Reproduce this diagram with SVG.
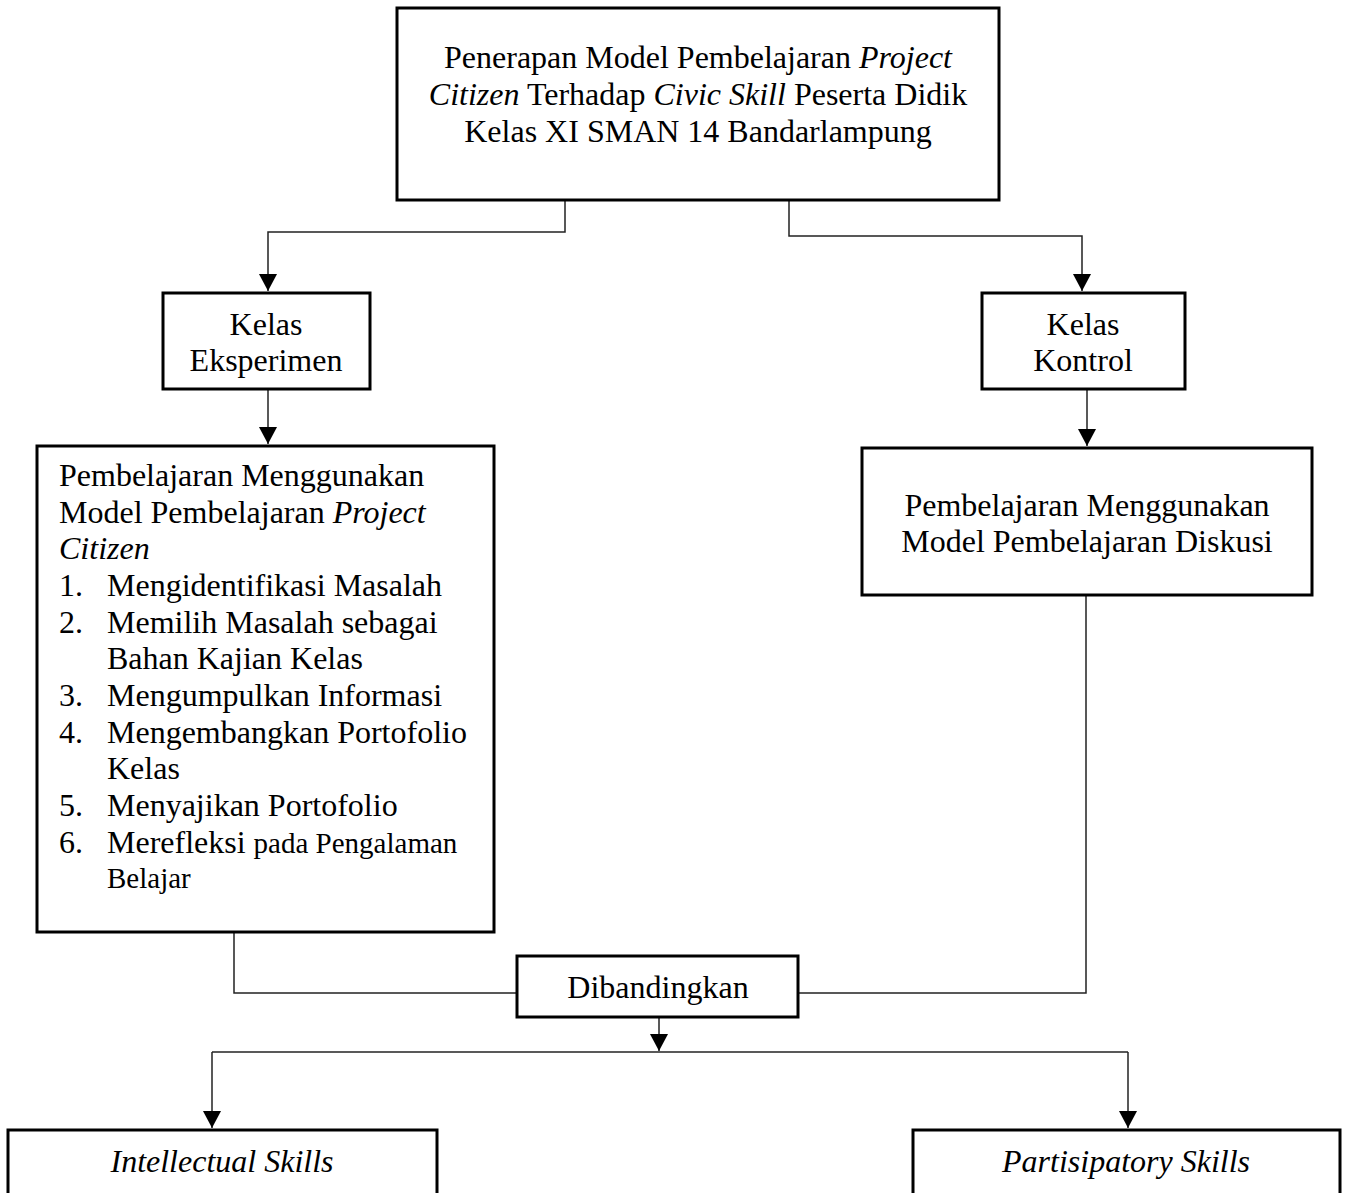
<svg xmlns="http://www.w3.org/2000/svg" width="1348" height="1193" viewBox="0 0 1348 1193">
<style>
.box{fill:#fff;stroke:#000;stroke-width:3}
.t{font-family:"Liberation Serif","Times New Roman",serif;font-size:32px;fill:#000}
.c{text-anchor:middle}
.i{font-style:italic}
.s{font-size:29px}
.conn{fill:none;stroke:#222;stroke-width:1.5}
</style>
<defs>
<marker id="arrd" markerUnits="userSpaceOnUse" markerWidth="18" markerHeight="18" viewBox="0 0 18 18" refX="17" refY="9" orient="auto">
<path d="M0,0 L17,9 L0,18 Z" fill="#000"/>
</marker>
</defs>
<g id="connectors">
<path class="conn" d="M565,200 V232 H268 V291" marker-end="url(#arrd)"/>
<path class="conn" d="M789,200 V236 H1082 V291" marker-end="url(#arrd)"/>
<path class="conn" d="M268,389 V444" marker-end="url(#arrd)"/>
<path class="conn" d="M1087,389 V446" marker-end="url(#arrd)"/>
<path class="conn" d="M234,932 V993 H517"/>
<path class="conn" d="M1086,595 V993 H798"/>
<path class="conn" d="M659,1017 V1051" marker-end="url(#arrd)"/>
<path class="conn" d="M212,1052 H1128"/>
<path class="conn" d="M212,1052 V1128" marker-end="url(#arrd)"/>
<path class="conn" d="M1128,1052 V1128" marker-end="url(#arrd)"/>
</g>
<g id="node-title">
<rect class="box" x="397" y="8" width="602" height="192"/>
<text class="t c" x="698" y="68">Penerapan Model Pembelajaran <tspan class="i">Project</tspan></text>
<text class="t c" x="698" y="105"><tspan class="i">Citizen</tspan> Terhadap <tspan class="i">Civic Skill</tspan> Peserta Didik</text>
<text class="t c" x="698" y="142">Kelas XI SMAN 14 Bandarlampung</text>
</g>
<g id="node-eksperimen">
<rect class="box" x="163" y="293" width="207" height="96"/>
<text class="t c" x="266" y="335">Kelas</text>
<text class="t c" x="266" y="371">Eksperimen</text>
</g>
<g id="node-kontrol">
<rect class="box" x="982" y="293" width="203" height="96"/>
<text class="t c" x="1083" y="335">Kelas</text>
<text class="t c" x="1083" y="371">Kontrol</text>
</g>
<g id="node-project-citizen">
<rect class="box" x="37" y="446" width="457" height="486"/>
<text class="t" x="59" y="486">Pembelajaran Menggunakan</text>
<text class="t" x="59" y="523">Model Pembelajaran <tspan class="i">Project</tspan></text>
<text class="t i" x="59" y="559">Citizen</text>
<text class="t" x="59" y="596">1.</text><text class="t" x="107" y="596">Mengidentifikasi Masalah</text>
<text class="t" x="59" y="633">2.</text><text class="t" x="107" y="633">Memilih Masalah sebagai</text>
<text class="t" x="107" y="669">Bahan Kajian Kelas</text>
<text class="t" x="59" y="706">3.</text><text class="t" x="107" y="706">Mengumpulkan Informasi</text>
<text class="t" x="59" y="743">4.</text><text class="t" x="107" y="743">Mengembangkan Portofolio</text>
<text class="t" x="107" y="779">Kelas</text>
<text class="t" x="59" y="816">5.</text><text class="t" x="107" y="816">Menyajikan Portofolio</text>
<text class="t" x="59" y="853">6.</text><text class="t" x="107" y="853">Merefleksi <tspan class="s">pada Pengalaman</tspan></text>
<text class="t s" x="107" y="888">Belajar</text>
</g>
<g id="node-diskusi">
<rect class="box" x="862" y="448" width="450" height="147"/>
<text class="t c" x="1087" y="516">Pembelajaran Menggunakan</text>
<text class="t c" x="1087" y="552">Model Pembelajaran Diskusi</text>
</g>
<g id="node-dibandingkan">
<rect class="box" x="517" y="956" width="281" height="61"/>
<text class="t c" x="658" y="998">Dibandingkan</text>
</g>
<g id="node-intellectual">
<rect class="box" x="8" y="1130" width="429" height="80"/>
<text class="t c i" x="222" y="1172">Intellectual Skills</text>
</g>
<g id="node-partisipatory">
<rect class="box" x="913" y="1130" width="427" height="80"/>
<text class="t c i" x="1126" y="1172">Partisipatory Skills</text>
</g>
</svg>
